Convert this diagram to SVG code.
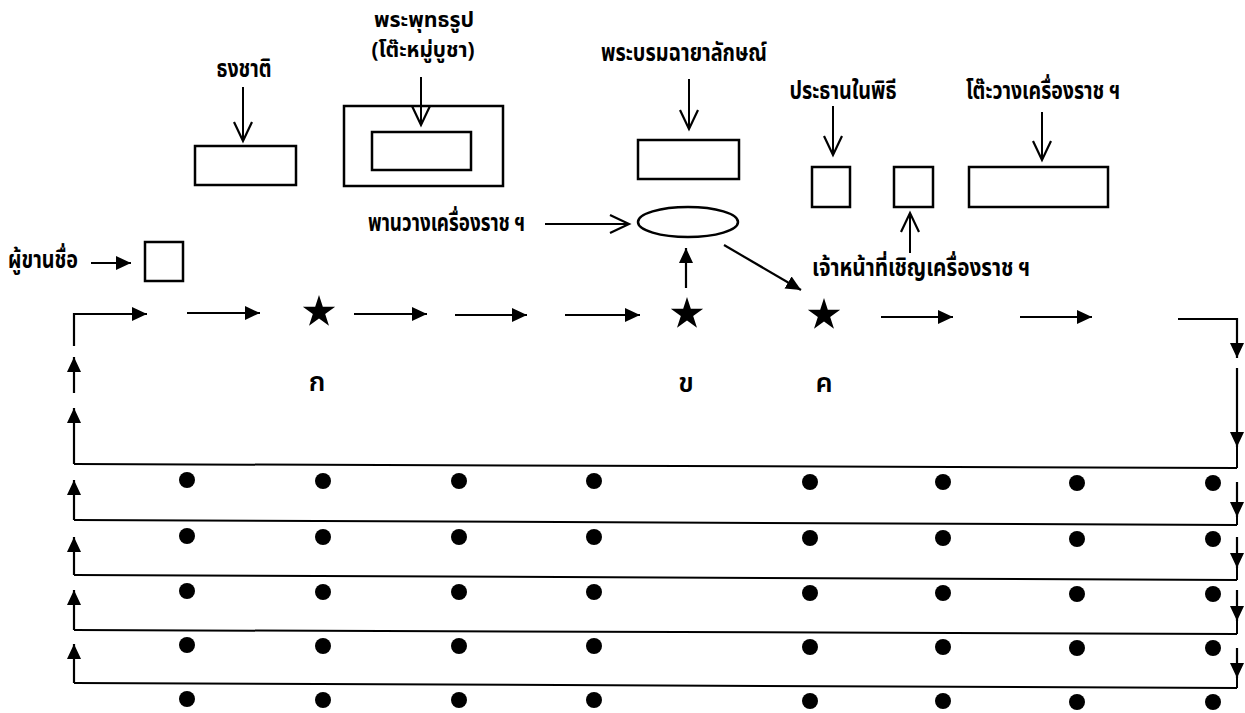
<svg xmlns="http://www.w3.org/2000/svg" width="1245" height="713" viewBox="0 0 1245 713">
<style>
.bx{fill:none;stroke:#000;stroke-width:2.5}
.ln{fill:none;stroke:#000;stroke-width:2}
.op{fill:none;stroke:#000;stroke-width:2;marker-end:url(#open)}
.fa{fill:none;stroke:#000;stroke-width:2.2;marker-end:url(#fill)}
.lb{font-family:"Noto Sans Thai","Noto Sans Thai UI","Tahoma","DejaVu Sans","Liberation Sans",sans-serif;font-weight:bold;font-size:24px;fill:#000}
.sm{font-size:21px}
.ch{font-family:"Noto Sans Thai","Tahoma","DejaVu Sans","Liberation Sans",sans-serif;font-weight:600;font-size:27px;fill:#000;text-anchor:middle}
.dot{fill:#000}
</style>
<defs>
<marker id="open" markerUnits="userSpaceOnUse" markerWidth="24" markerHeight="24" refX="20" refY="10" orient="auto">
<path d="M1,1 L20,10 L1,19" fill="none" stroke="#000" stroke-width="2.2"/>
</marker>
<marker id="fill" markerUnits="userSpaceOnUse" markerWidth="18" markerHeight="16" refX="15" refY="7" orient="auto">
<path d="M0,0 L15,7 L0,14 Z" fill="#000"/>
</marker>
<polygon id="star" points="0,-17 3.82,-5.26 16.17,-5.25 6.18,2.01 9.99,13.75 0,6.5 -9.99,13.75 -6.18,2.01 -16.17,-5.25 -3.82,-5.26" fill="#000"/>
</defs>
<rect width="1245" height="713" fill="#fff"/>

<g id="flag">
<text class="lb" x="244" y="77" text-anchor="middle" textLength="55" lengthAdjust="spacingAndGlyphs">ธงชาติ</text>
<rect class="bx" x="195" y="146" width="101" height="39"/>
</g>
<g id="buddha">
<text class="lb sm" x="424" y="27" text-anchor="middle" textLength="100" lengthAdjust="spacingAndGlyphs">พระพุทธรูป</text>
<text class="lb sm" x="423" y="57" text-anchor="middle" textLength="103" lengthAdjust="spacingAndGlyphs">(โต๊ะหมู่บูชา)</text>
<rect class="bx" x="344" y="106" width="159" height="80"/>
<rect class="bx" x="372" y="132" width="99" height="38"/>
</g>
<g id="portrait">
<text class="lb" x="684" y="61" text-anchor="middle" textLength="166" lengthAdjust="spacingAndGlyphs">พระบรมฉายาลักษณ์</text>
<rect class="bx" x="638" y="140" width="101" height="39"/>
</g>
<g id="tray">
<text class="lb" x="368" y="231" textLength="157" lengthAdjust="spacingAndGlyphs">พานวางเครื่องราช ฯ</text>
<ellipse class="bx" cx="688" cy="222" rx="50" ry="15"/>
</g>
<g id="chair">
<text class="lb" x="843" y="99" text-anchor="middle" textLength="107" lengthAdjust="spacingAndGlyphs">ประธานในพิธี</text>
<rect class="bx" x="812" y="167" width="38" height="40"/>
</g>
<g id="officer">
<rect class="bx" x="894" y="167" width="39" height="40"/>
<text class="lb" x="812" y="276" textLength="218" lengthAdjust="spacingAndGlyphs">เจ้าหน้าที่เชิญเครื่องราช ฯ</text>
</g>
<g id="table">
<text class="lb" x="966" y="99" textLength="154" lengthAdjust="spacingAndGlyphs">โต๊ะวางเครื่องราช ฯ</text>
<rect class="bx" x="969" y="167" width="139" height="40"/>
</g>
<g id="caller">
<text class="lb" x="8" y="268" textLength="70" lengthAdjust="spacingAndGlyphs">ผู้ขานชื่อ</text>
<rect class="bx" x="145" y="242" width="38" height="39"/>
</g>
<g id="stars">
<use href="#star" x="319" y="312"/>
<use href="#star" x="687" y="314"/>
<use href="#star" x="824" y="315"/>
<text class="ch" x="317" y="391">ก</text>
<text class="ch" x="686" y="392">ข</text>
<text class="ch" x="824" y="392">ค</text>
</g>
<g id="seats">
<circle class="dot" cx="187" cy="480" r="8"/><circle class="dot" cx="323" cy="481" r="8"/><circle class="dot" cx="459" cy="481" r="8"/><circle class="dot" cx="594" cy="481" r="8"/><circle class="dot" cx="810" cy="482" r="8"/><circle class="dot" cx="943" cy="482" r="8"/><circle class="dot" cx="1077" cy="483" r="8"/><circle class="dot" cx="1213" cy="483" r="8"/>
<circle class="dot" cx="187" cy="536" r="8"/><circle class="dot" cx="323" cy="537" r="8"/><circle class="dot" cx="459" cy="537" r="8"/><circle class="dot" cx="594" cy="537" r="8"/><circle class="dot" cx="810" cy="538" r="8"/><circle class="dot" cx="943" cy="538" r="8"/><circle class="dot" cx="1077" cy="539" r="8"/><circle class="dot" cx="1213" cy="539" r="8"/>
<circle class="dot" cx="187" cy="591" r="8"/><circle class="dot" cx="323" cy="592" r="8"/><circle class="dot" cx="459" cy="592" r="8"/><circle class="dot" cx="594" cy="592" r="8"/><circle class="dot" cx="810" cy="593" r="8"/><circle class="dot" cx="943" cy="593" r="8"/><circle class="dot" cx="1077" cy="594" r="8"/><circle class="dot" cx="1213" cy="594" r="8"/>
<circle class="dot" cx="187" cy="645" r="8"/><circle class="dot" cx="323" cy="646" r="8"/><circle class="dot" cx="459" cy="646" r="8"/><circle class="dot" cx="594" cy="646" r="8"/><circle class="dot" cx="810" cy="647" r="8"/><circle class="dot" cx="943" cy="647" r="8"/><circle class="dot" cx="1077" cy="648" r="8"/><circle class="dot" cx="1213" cy="648" r="8"/>
<circle class="dot" cx="187" cy="699" r="8"/><circle class="dot" cx="323" cy="700" r="8"/><circle class="dot" cx="459" cy="700" r="8"/><circle class="dot" cx="594" cy="700" r="8"/><circle class="dot" cx="810" cy="701" r="8"/><circle class="dot" cx="943" cy="701" r="8"/><circle class="dot" cx="1077" cy="702" r="8"/><circle class="dot" cx="1213" cy="702" r="8"/>
</g>
<g id="connectors">
<line class="op" x1="243" y1="87" x2="243" y2="141"/>
<line class="op" x1="421" y1="77" x2="421" y2="125"/>
<line class="op" x1="689" y1="79" x2="689" y2="129"/>
<line class="op" x1="833" y1="106" x2="833" y2="155"/>
<line class="op" x1="1042" y1="112" x2="1042" y2="160"/>
<line class="op" x1="545" y1="224" x2="629" y2="224"/>
<line class="op" x1="910" y1="253" x2="910" y2="213"/>
<line class="fa" x1="91" y1="263" x2="131" y2="263"/>
<line class="fa" x1="724" y1="245" x2="801" y2="290"/>
<line class="fa" x1="686" y1="288" x2="686" y2="248"/>
<path class="fa" d="M74,346 V314 H147"/>
<line class="fa" x1="187" y1="313" x2="260" y2="313"/>
<line class="fa" x1="354" y1="314" x2="427" y2="314"/>
<line class="fa" x1="455" y1="315" x2="527" y2="315"/>
<line class="fa" x1="565" y1="315" x2="640" y2="315"/>
<line class="fa" x1="881" y1="317" x2="953" y2="317"/>
<line class="fa" x1="1020" y1="317" x2="1092" y2="317"/>
<path class="fa" d="M1178,319 H1237 V358"/>
<line class="fa" x1="1237" y1="368" x2="1237" y2="447"/>
<line class="ln" x1="1237" y1="445" x2="1237" y2="468"/>
<line class="ln" x1="74" y1="464" x2="1237" y2="468"/>
<line class="fa" x1="74" y1="464" x2="74" y2="408"/>
<line class="fa" x1="74" y1="393" x2="74" y2="357"/>
<line class="ln" x1="74" y1="520" x2="1237" y2="525"/>
<line class="ln" x1="74" y1="575" x2="1237" y2="580"/>
<line class="ln" x1="74" y1="630" x2="1237" y2="634"/>
<line class="ln" x1="74" y1="683" x2="1237" y2="688"/>
<line class="fa" x1="74" y1="520" x2="74" y2="480"/>
<line class="fa" x1="74" y1="575" x2="74" y2="537"/>
<line class="fa" x1="74" y1="630" x2="74" y2="590"/>
<line class="fa" x1="74" y1="683" x2="74" y2="644"/>
<line class="fa" x1="1237" y1="482" x2="1237" y2="517"/>
<line class="ln" x1="1237" y1="515" x2="1237" y2="525"/>
<line class="fa" x1="1237" y1="537" x2="1237" y2="568"/>
<line class="ln" x1="1237" y1="566" x2="1237" y2="580"/>
<line class="fa" x1="1237" y1="590" x2="1237" y2="621"/>
<line class="ln" x1="1237" y1="619" x2="1237" y2="634"/>
<line class="fa" x1="1237" y1="648" x2="1237" y2="678"/>
<line class="ln" x1="1237" y1="676" x2="1237" y2="688"/>
</g>
</svg>
